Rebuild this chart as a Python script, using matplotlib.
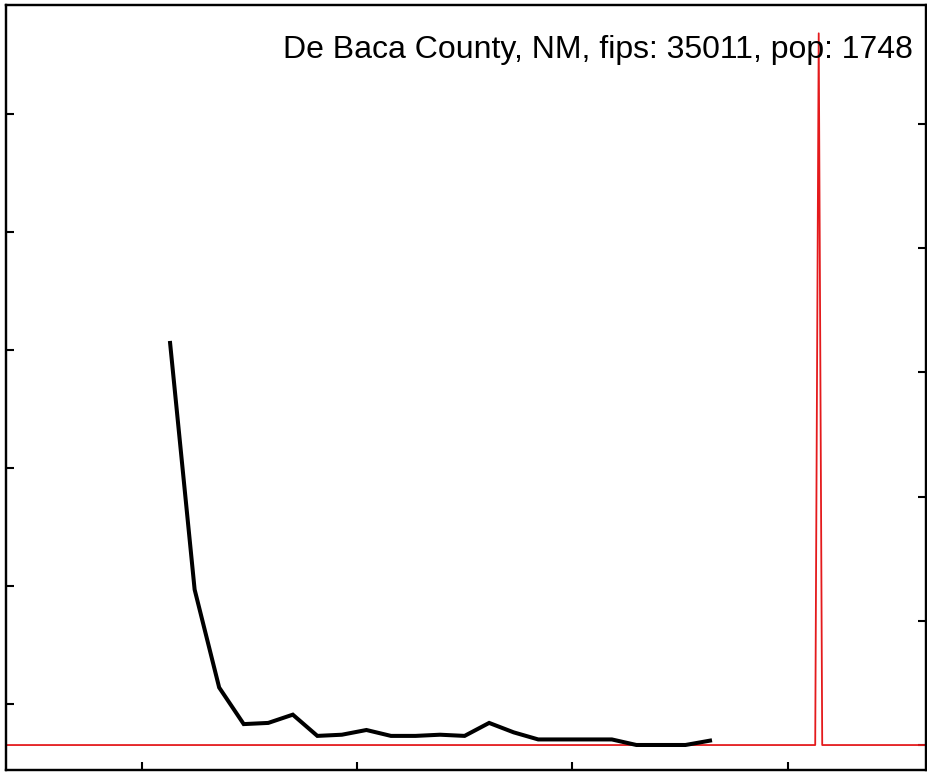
import matplotlib
matplotlib.use("Agg")
import matplotlib.pyplot as plt

# ---- data ----
title = "De Baca County, NM, fips: 35011, pop: 1748"
black_days = [0, 7, 14, 21, 28, 35, 42, 49, 56, 63, 70, 77, 84, 91, 98, 105,
              112, 119, 126, 133, 140, 147, 154]
black_vals = [4.06, 1.97, 1.14, 0.83, 0.84, 0.91, 0.73, 0.74, 0.78, 0.73, 0.73,
              0.74, 0.73, 0.84, 0.76, 0.70, 0.70, 0.70, 0.70, 0.653, 0.653, 0.653, 0.69]
red_days = [-50, 184, 185, 186, 220]
red_vals = [0, 0, 5.73, 0, 0]
x_ticks = [-8, 53.3, 114.6, 176.2]
left_ticks = [1, 2, 3, 4, 5, 6]
right_ticks = [0, 1, 2, 3, 4, 5]

W, H = 928, 774
fig = plt.figure(figsize=(W / 100, H / 100), dpi=100)
ax = fig.add_axes([6 / W, 4 / H, 920 / W, 765 / H])
ax.plot(black_days, black_vals, color="black", lw=2.9, solid_joinstyle="miter", zorder=3)
ax.set_xlim(-46.8, 215.6)
ax.set_ylim(0.441, 6.924)
ax.set_xticks(x_ticks)
ax.set_yticks(left_ticks)
ax.set_xticklabels([])
ax.set_yticklabels([])
ax.tick_params(direction="in", length=5.5, width=1.5, top=False, right=False)
for s in ax.spines.values():
    s.set_linewidth(1.6)

ax2 = ax.twinx()
ax2.plot(red_days, red_vals, color="#e41a1c", lw=1.3, zorder=2)
ax2.set_ylim(-0.201, 5.958)
ax2.set_yticks(right_ticks)
ax2.set_yticklabels([])
ax2.tick_params(direction="in", length=5.5, width=1.5)
ax.set_zorder(ax2.get_zorder() + 1)
ax.patch.set_visible(False)
for s in ax2.spines.values():
    s.set_linewidth(1.6)

fig.text(913 / W, 1 - 58 / H, title, ha="right", va="baseline",
         fontsize=23, family=["Liberation Sans", "DejaVu Sans"])

fig.savefig("out.png", dpi=100)
